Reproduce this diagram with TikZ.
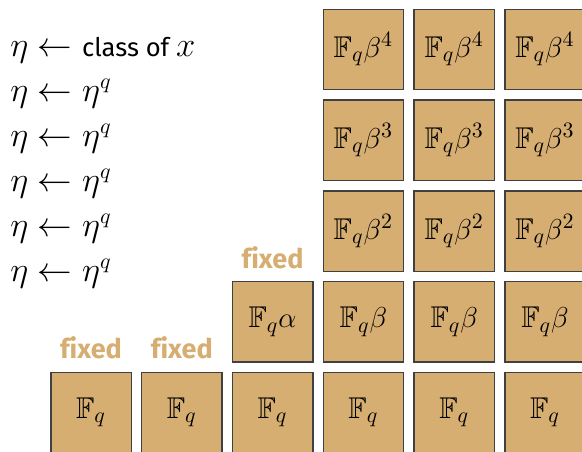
\documentclass[tikz,border=0pt]{standalone}
\usepackage{amsmath,amssymb}
\usepackage{fontspec}
\setmainfont[Ligatures=NoCommon]{Fira Sans}
\usetikzlibrary{positioning}

\definecolor{fieldtan}{RGB}{214,174,114}

\begin{document}
\begin{tikzpicture}[
  x=0.5pt, y=-0.5pt,
  cell/.style={rectangle, draw=black!75, fill=fieldtan, line width=0.7pt, minimum size=40.2pt, inner sep=0pt, font=\fontsize{15}{18}\selectfont},
  fixedlab/.style={font=\fontsize{13.5}{16}\selectfont\bfseries, text=fieldtan, inner sep=0pt},
  rule/.style={anchor=base west, inner sep=0pt, font=\fontsize{16}{19}\selectfont},
  node distance=4.5pt,
]
\useasboundingbox (0,0) rectangle (582,451);

% === Update rules ===
\node[rule] (l1) at (10, 56.5) {$\eta \leftarrow \text{\fontsize{12.8}{15}\selectfont class of } x$};
\node[rule] (l2) at (10, 101.5) {$\eta \leftarrow \eta^q$};
\node[rule] (l3) at (10, 146.5) {$\eta \leftarrow \eta^q$};
\node[rule] (l4) at (10, 191.5) {$\eta \leftarrow \eta^q$};
\node[rule] (l5) at (10, 236.5) {$\eta \leftarrow \eta^q$};
\node[rule] (l6) at (10, 281.5) {$\eta \leftarrow \eta^q$};

% === Bottom row: F_q ===
\node[cell] (f1) at (91, 412.6) {$\mathbb{F}_q$};
\node[cell, right=of f1] (f2) {$\mathbb{F}_q$};
\node[cell, right=of f2] (f3) {$\mathbb{F}_q$};
\node[cell, right=of f3] (f4) {$\mathbb{F}_q$};
\node[cell, right=of f4] (f5) {$\mathbb{F}_q$};
\node[cell, right=of f5] (f6) {$\mathbb{F}_q$};

% === alpha ===
\node[cell, above=of f3] (a3) {$\mathbb{F}_q\alpha$};

% === beta towers ===
\node[cell, above=of f4] (b4) {$\mathbb{F}_q\beta$};
\node[cell, above=of b4] (bb4) {$\mathbb{F}_q\beta^2$};
\node[cell, above=of bb4] (bbb4) {$\mathbb{F}_q\beta^3$};
\node[cell, above=of bbb4] (bbbb4) {$\mathbb{F}_q\beta^4$};

\node[cell, above=of f5] (b5) {$\mathbb{F}_q\beta$};
\node[cell, above=of b5] (bb5) {$\mathbb{F}_q\beta^2$};
\node[cell, above=of bb5] (bbb5) {$\mathbb{F}_q\beta^3$};
\node[cell, above=of bbb5] (bbbb5) {$\mathbb{F}_q\beta^4$};

\node[cell, above=of f6] (b6) {$\mathbb{F}_q\beta$};
\node[cell, above=of b6] (bb6) {$\mathbb{F}_q\beta^2$};
\node[cell, above=of bb6] (bbb6) {$\mathbb{F}_q\beta^3$};
\node[cell, above=of bbb6] (bbbb6) {$\mathbb{F}_q\beta^4$};

% === fixed marks ===
\node[fixedlab, above=6pt of f1] (x1) {fixed};
\node[fixedlab, above=6pt of f2] (x2) {fixed};
\node[fixedlab, above=6pt of a3] (x3) {fixed};

\end{tikzpicture}
\end{document}
